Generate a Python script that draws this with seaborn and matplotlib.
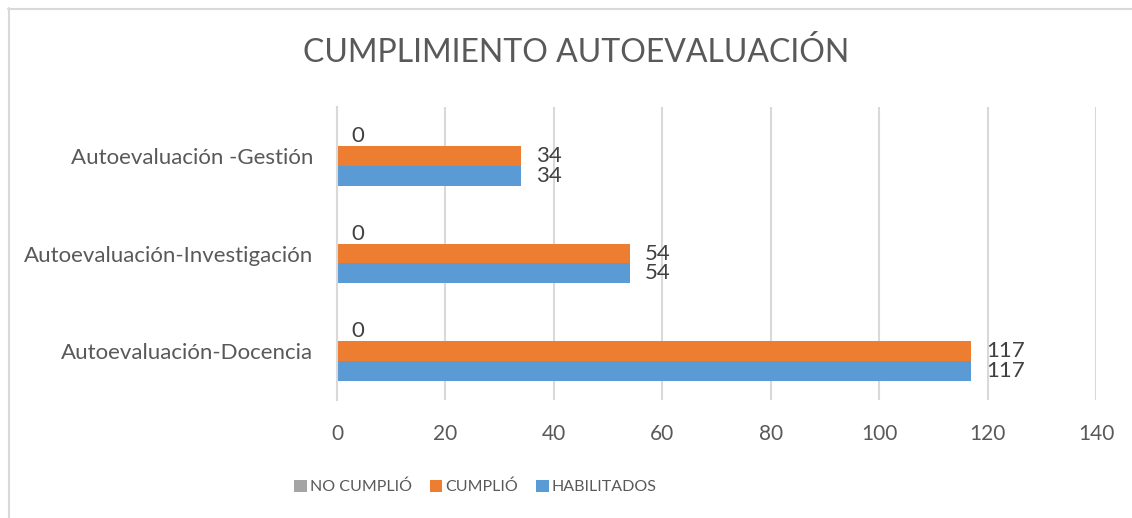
import pandas as pd
import seaborn as sns
import matplotlib.pyplot as plt
from matplotlib.lines import Line2D
from matplotlib.patches import Patch

# datos
categorias = ['Autoevaluación -Gestión', 'Autoevaluación-Investigación', 'Autoevaluación-Docencia']
habilitados = [34, 54, 117]
cumplio = [34, 54, 117]
no_cumplio = [0, 0, 0]
series = ['NO CUMPLIÓ', 'CUMPLIÓ', 'HABILITADOS']
colores = ['#A5A5A5', '#ED7D31', '#5B9BD5']
ticks_x = [0, 20, 40, 60, 80, 100, 120, 140]

df = pd.DataFrame({
    'categoria': categorias * 3,
    'serie': [series[0]] * 3 + [series[1]] * 3 + [series[2]] * 3,
    'valor': no_cumplio + cumplio + habilitados,
})

sns.set_style('white')
plt.rcParams['font.family'] = ['Lato', 'DejaVu Sans']
gris_texto = '#595959'

fig = plt.figure(figsize=(11.32, 5.18), dpi=100)
ax = fig.add_axes([0.2977, 0.2278, 0.6705, 0.5656])

sns.barplot(data=df, y='categoria', x='valor', hue='serie', order=categorias,
            hue_order=series, palette=colores, width=0.61, orient='h',
            saturation=1, linewidth=0, ax=ax, legend=False)

for cont in ax.containers:
    ax.bar_label(cont, padding=10.5, fontsize=16, color='#404040')

ax.set_xlim(0, 140)
ax.set_ylim(2.5, -0.5)
ax.set_xticks(ticks_x)
ax.set_xticklabels([str(t) for t in ticks_x], fontsize=15, color=gris_texto)
ax.tick_params(axis='x', length=0, pad=17)
ax.tick_params(axis='y', length=0, pad=17, labelsize=16, labelcolor=gris_texto)
ax.set_xlabel('')
ax.set_ylabel('')
ax.xaxis.grid(True, color='#D9D9D9', linewidth=1.5)
ax.set_axisbelow(True)
for s in ['top', 'right', 'bottom']:
    ax.spines[s].set_visible(False)
ax.spines['left'].set_color('#D9D9D9')
ax.spines['left'].set_linewidth(1.5)

fig.text(0.509, 0.898, 'CUMPLIMIENTO AUTOEVALUACIÓN', ha='center', va='center',
         fontsize=23, color=gris_texto)

handles = [Patch(facecolor=c, edgecolor='none') for c in colores]
fig.legend(handles, series, loc='center', bbox_to_anchor=(0.42, 0.06), ncol=3,
           frameon=False, handlelength=0.8, handleheight=0.8, handletextpad=0.2,
           columnspacing=1.1, prop={'size': 11.5}, labelcolor=gris_texto)

# borde del gráfico
fig.add_artist(Line2D([8 / 1132, 1], [1 - 8.5 / 518, 1 - 8.5 / 518], color='#D9D9D9', linewidth=1.5))
fig.add_artist(Line2D([8.5 / 1132, 8.5 / 1132], [0, 1 - 8 / 518], color='#D9D9D9', linewidth=1.5))

fig.savefig('out.png', dpi=100)
